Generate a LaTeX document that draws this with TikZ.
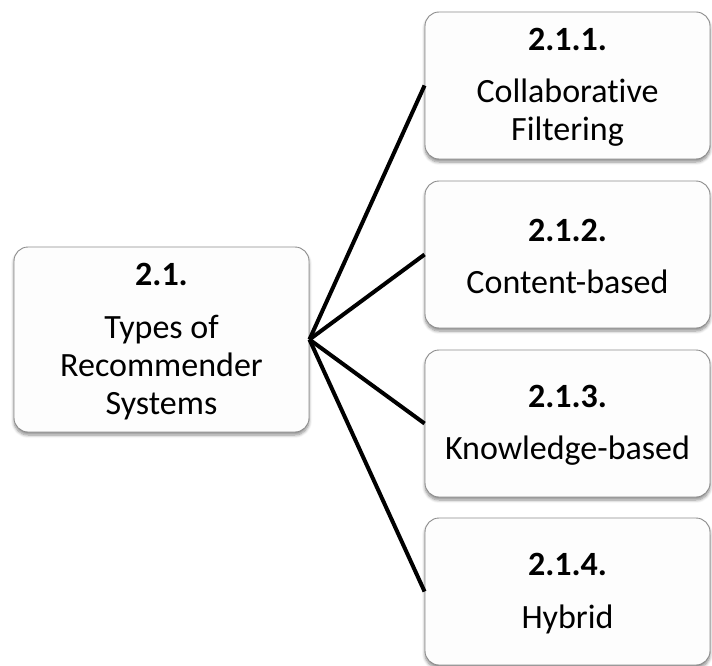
\documentclass[tikz,border=0pt]{standalone}
\usepackage{fontspec}
\setmainfont{Carlito}[Ligatures=NoCommon]
\usetikzlibrary{shadows.blur}
\definecolor{boxborder}{HTML}{8C8C8C}
\definecolor{boxfill}{HTML}{FDFDFD}
\tikzset{
  card/.style={draw=boxborder, line width=0.9pt, fill=boxfill, rounded corners=14pt,
    inner sep=0pt,
    blur shadow={shadow xshift=0pt, shadow yshift=-3pt, shadow blur radius=3pt,
      shadow blur steps=6, shadow opacity=45}},
  leftcard/.style={card, minimum width=295pt, minimum height=185pt},
  rightcard/.style={card, minimum width=285pt, minimum height=147pt},
  cardtext/.style={align=center, inner sep=0pt, yshift=-2pt,
    font=\fontsize{34}{38}\selectfont},
  link/.style={line width=4pt, black}
}
\begin{document}
\begin{tikzpicture}[x=1pt, y=-1pt]
\useasboundingbox (0,0) rectangle (712,666);
% boxes
\node[leftcard]  (root) at (161.5,339.5) {};
\node[rightcard] (cf)   at (567.5,85.5)  {};
\node[rightcard] (cb)   at (567.5,254.5) {};
\node[rightcard] (kb)   at (567.5,423.5) {};
\node[rightcard] (hy)   at (567.5,591.5) {};
% connectors
\draw[link] (root.east) -- (cf.west);
\draw[link] (root.east) -- (cb.west);
\draw[link] (root.east) -- (kb.west);
\draw[link] (root.east) -- (hy.west);
% texts
\node[cardtext] (roott) at (root.center) {\textbf{2.1.}\\[14.5pt]Types of\\Recommender\\Systems};
\node[cardtext] (cft) at (cf.center) {\textbf{2.1.1.}\\[14.5pt]Collaborative\\Filtering};
\node[cardtext] (cbt) at (cb.center) {\textbf{2.1.2.}\\[14.5pt]Content-based};
\node[cardtext] (kbt) at (kb.center) {\textbf{2.1.3.}\\[14.5pt]Knowledge-based};
\node[cardtext] (hyt) at (hy.center) {\textbf{2.1.4.}\\[14.5pt]Hybrid};
\end{tikzpicture}
\end{document}
